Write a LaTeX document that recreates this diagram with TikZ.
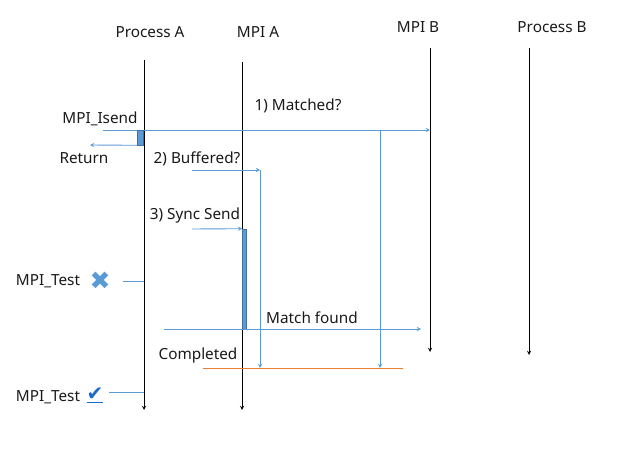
\documentclass[tikz,border=0pt]{standalone}
\usepackage{fontspec}
\setmainfont{Noto Sans}
\newfontfamily\symbolfont{DejaVu Sans}
\usepackage{tikz}
\usepackage{xcolor}
\definecolor{my_blue}{HTML}{5B9BD5}
\definecolor{my_dark_blue}{HTML}{41719C}
\definecolor{my_orange}{HTML}{ED7D31}
\definecolor{my_check}{HTML}{1F6BC9}
\colorlet{life_line}{black}
\colorlet{msg_line}{my_blue}
\colorlet{bar_fill}{my_blue}
\colorlet{bar_edge}{my_dark_blue}
\colorlet{done_line}{my_orange}
\colorlet{label_text}{black!90}

\begin{document}
\begin{tikzpicture}[
    x=1pt, y=-1pt,
    >=stealth,
    lifeline/.style={color=life_line, line width=0.9pt, ->},
    message/.style={color=msg_line, line width=0.9pt},
    activation/.style={fill=bar_fill, draw=bar_edge, line width=0.6pt, inner sep=0pt},
    label-text/.style={text=label_text, font=\fontsize{15.3}{18}\selectfont, inner sep=0pt, yshift=-1.5pt},
    done/.style={color=done_line, line width=0.9pt},
    status/.style={inner sep=0pt, font=\symbolfont},
  ]
  \useasboundingbox (0,0) rectangle (628,449);

  %%%%%%%%%% Lifelines %%%%%%%%%%
  \foreach \name/\x/\top/\bot/\labx/\laby/\labeltext in {
    procA/144/60/410/150/31/{Process A},
    mpiA/242/62/410/258/31/{MPI A},
    mpiB/430/48/352/418/26/{MPI B},
    procB/529/48/355/552/26/{Process B}
  } {
    \node[label-text] (\name-head) at (\labx,\laby) {\labeltext};
    \coordinate (\name-top) at (\x,\top);
    \coordinate (\name-bot) at (\x,\bot);
    \draw[lifeline] (\name-top) -- (\name-bot);
  }

  %%%%%%%%%% Completion line %%%%%%%%%%
  \coordinate (done-start) at (203,368);
  \coordinate (done-end) at (403,368);
  \draw[done] (done-start) -- (done-end);
  \node[label-text] (done-label) at (198,354) {Completed};

  %%%%%%%%%% MPI_Isend %%%%%%%%%%
  \node[label-text] (isend-label) at (100,117) {MPI\_Isend};
  \coordinate (isend) at (103,130);
  \draw[message, ->] (isend) -- (isend -| mpiB-top);
  \node[activation, minimum width=6pt, minimum height=15pt] (isend-bar) at (140.5,137.5) {};
  \coordinate (return-end) at (90,145);
  \draw[message, ->] (isend-bar.south west) -- (return-end);
  \node[label-text] (return-label) at (84,157) {Return};

  %%%%%%%%%% 1) Matched? %%%%%%%%%%
  \node[label-text] (matched-label) at (298,104) {1) Matched?};
  \coordinate (matched) at (380,130);
  \draw[message, ->] (matched) -- (matched |- done-start);

  %%%%%%%%%% 2) Buffered? %%%%%%%%%%
  \node[label-text] (buffered-label) at (197,157) {2) Buffered?};
  \coordinate (buffered) at (192,170);
  \coordinate (buffered-turn) at (260,170);
  \draw[message, ->] (buffered) -- (buffered-turn);
  \draw[message, ->] (buffered-turn) -- (buffered-turn |- done-start);

  %%%%%%%%%% 3) Sync Send %%%%%%%%%%
  \node[label-text] (sync-label) at (195,214) {3) Sync Send};
  \node[activation, minimum width=4pt, minimum height=100pt] (sync-bar) at (244.5,279) {};
  \coordinate (sync) at (192,229);
  \draw[message, ->] (sync) -- (sync-bar.north west);

  %%%%%%%%%% Match found %%%%%%%%%%
  \node[label-text] (found-label) at (312,316) {Match found};
  \coordinate (found-start) at (164,329);
  \coordinate (found-end) at (421,329);
  \draw[message, ->] (found-start) -- (found-end);

  %%%%%%%%%% MPI_Test calls %%%%%%%%%%
  \foreach \laby/\marky/\y/\symx/\linex/\mark/\markcolor/\tag in {
    280/281/281/100/123/{\fontsize{25}{25}\selectfont ✖}/my_blue/fail,
    396/395/392/95/109/{\fontsize{20}{20}\selectfont\underline{✔}}/my_check/pass
  } {
    \node[label-text] (test-\tag) at (48,\laby) {MPI\_Test};
    \node[status, text=\markcolor] (mark-\tag) at (\symx,\marky) {\mark};
    \coordinate (test-\tag-start) at (\linex,\y);
    \draw[message] (test-\tag-start) -- (test-\tag-start -| procA-top);
  }

\end{tikzpicture}
\end{document}
